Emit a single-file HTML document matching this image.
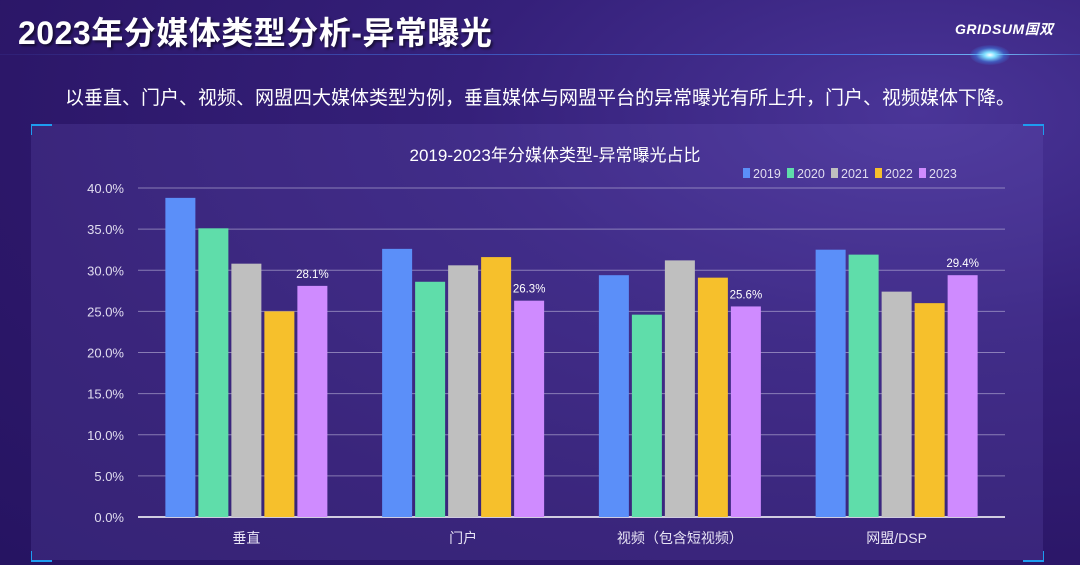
<!DOCTYPE html>
<html><head><meta charset="utf-8">
<style>
html,body{margin:0;padding:0}
body{width:1080px;height:565px;overflow:hidden;position:relative;font-family:"Liberation Sans","Noto Sans CJK SC",sans-serif;
background:radial-gradient(ellipse at 85% 20%,#4a3598 0%,#35207a 35%,#2c1769 70%,#261462 100%);}
.title{position:absolute;left:18px;top:8px;font-size:32px;font-weight:bold;color:#fff;letter-spacing:0.5px;text-shadow:2px 2px 2px rgba(0,0,0,.5)}
.logo{position:absolute;left:955px;top:19px;font-size:14px;font-weight:bold;font-style:italic;color:#fff;letter-spacing:0.5px}
.line{position:absolute;left:0;top:54px;width:1080px;height:1px;background:linear-gradient(90deg,rgba(80,110,230,0.1),rgba(70,140,255,0.8) 80%,rgba(120,200,255,.9) 92%,rgba(70,140,255,0.4))}
.flare{position:absolute;left:970px;top:45px;width:40px;height:20px;border-radius:50%;background:radial-gradient(ellipse,#fff 0%,#7fe0ff 20%,rgba(60,150,255,0.4) 50%,rgba(60,150,255,0) 75%)}
.sub{position:absolute;left:0;width:1080px;top:83px;text-align:center;font-size:19px;color:#fff}
.panel{position:absolute;left:31px;top:124px;width:1012px;height:436px;background:rgba(110,90,190,0.22)}
.corner{position:absolute;width:20px;height:9px;border-color:#1e9cf0;border-style:solid;border-width:0}
</style></head><body>
<div class="title">2023年分媒体类型分析-异常曝光</div>
<div class="logo">GRIDSUM国双</div>
<div class="line"></div>
<div class="flare"></div>
<div class="sub">以垂直、门户、视频、网盟四大媒体类型为例，垂直媒体与网盟平台的异常曝光有所上升，门户、视频媒体下降。</div>
<div class="panel"></div>
<div class="corner" style="left:31px;top:124px;border-top-width:2px;border-left-width:1px"></div>
<div class="corner" style="left:1023px;top:124px;border-top-width:2px;border-right-width:1px"></div>
<div class="corner" style="left:31px;top:551px;border-bottom-width:2px;border-left-width:1px"></div>
<div class="corner" style="left:1023px;top:551px;border-bottom-width:2px;border-right-width:1px"></div>
<svg id="chart" width="1080" height="565" style="position:absolute;left:0;top:0"></svg>
<script>
const categories=["垂直","门户","视频（包含短视频）","网盟/DSP"];
const years=["2019","2020","2021","2022","2023"];
const s2019=[38.8,32.6,29.4,32.5];
const s2020=[35.1,28.6,24.6,31.9];
const s2021=[30.8,30.6,31.2,27.4];
const s2022=[25.0,31.6,29.1,26.0];
const s2023=[28.1,26.3,25.6,29.4];
const labels2023=["28.1%","26.3%","25.6%","29.4%"];
const ticks=[0,5,10,15,20,25,30,35,40];
const tickLabels=["0.0%","5.0%","10.0%","15.0%","20.0%","25.0%","30.0%","35.0%","40.0%"];
const series=[s2019,s2020,s2021,s2022,s2023];
const colors=["#5b8ff9","#5fddaa","#bfbfbf","#f6c02c","#cf8bff"];
const NS="http://www.w3.org/2000/svg";
const svg=document.getElementById('chart');
const X0=138,X1=1005,Y0=517,Y1=188,MAX=40;
const y=v=>Y0-(Y0-Y1)*v/MAX;
const bw=(X1-X0)/categories.length;
const x=(ci,si)=>X0+bw*ci+bw/2+(si-2)*33-15;
function mk(t,a){const e=document.createElementNS(NS,t);for(const k in a)e.setAttribute(k,a[k]);svg.appendChild(e);return e;}
let t=mk('text',{x:555,y:161,'text-anchor':'middle',fill:'#fff','font-size':17});
t.textContent="2019-2023年分媒体类型-异常曝光占比";


ticks.forEach((v,i)=>{
 const l=mk('line',{x1:X0,x2:X1,y1:y(v),y2:y(v),stroke:i==0?'#d0cce0':'rgba(200,195,225,0.55)','stroke-width':i==0?2:1});
 
 
 const tx=mk('text',{x:124,y:y(v)+5,'text-anchor':'end',fill:'#e0dcef','font-size':13});
 tx.textContent=tickLabels[i];
 
 
});
categories.forEach((c,ci)=>{
 series.forEach((s,si)=>{
  const r=mk('rect',{x:x(ci,si),y:y(s[ci]),width:30,height:Y0-y(s[ci]),fill:colors[si]});
  
  
 });
 const lb=mk('text',{x:x(ci,4)+15,y:y(s2023[ci])-8,'text-anchor':'middle',fill:'#fff','font-size':11.5});
 lb.textContent=labels2023[ci];
 
 
 const cl=mk('text',{x:X0+bw*ci+bw/2,y:543,'text-anchor':'middle',fill:'#e8e4f5','font-size':14});
 cl.textContent=c;
 
 
});
years.forEach((yr,i)=>{
 const lx=743+i*44;
 const sw=mk('rect',{x:lx,y:168,width:7,height:10,fill:colors[i]});
 
 
 const lt=mk('text',{x:lx+10,y:178,fill:'#e0dcef','font-size':12.5});
 lt.textContent=yr;
 
 
});
</script>
</body></html>
